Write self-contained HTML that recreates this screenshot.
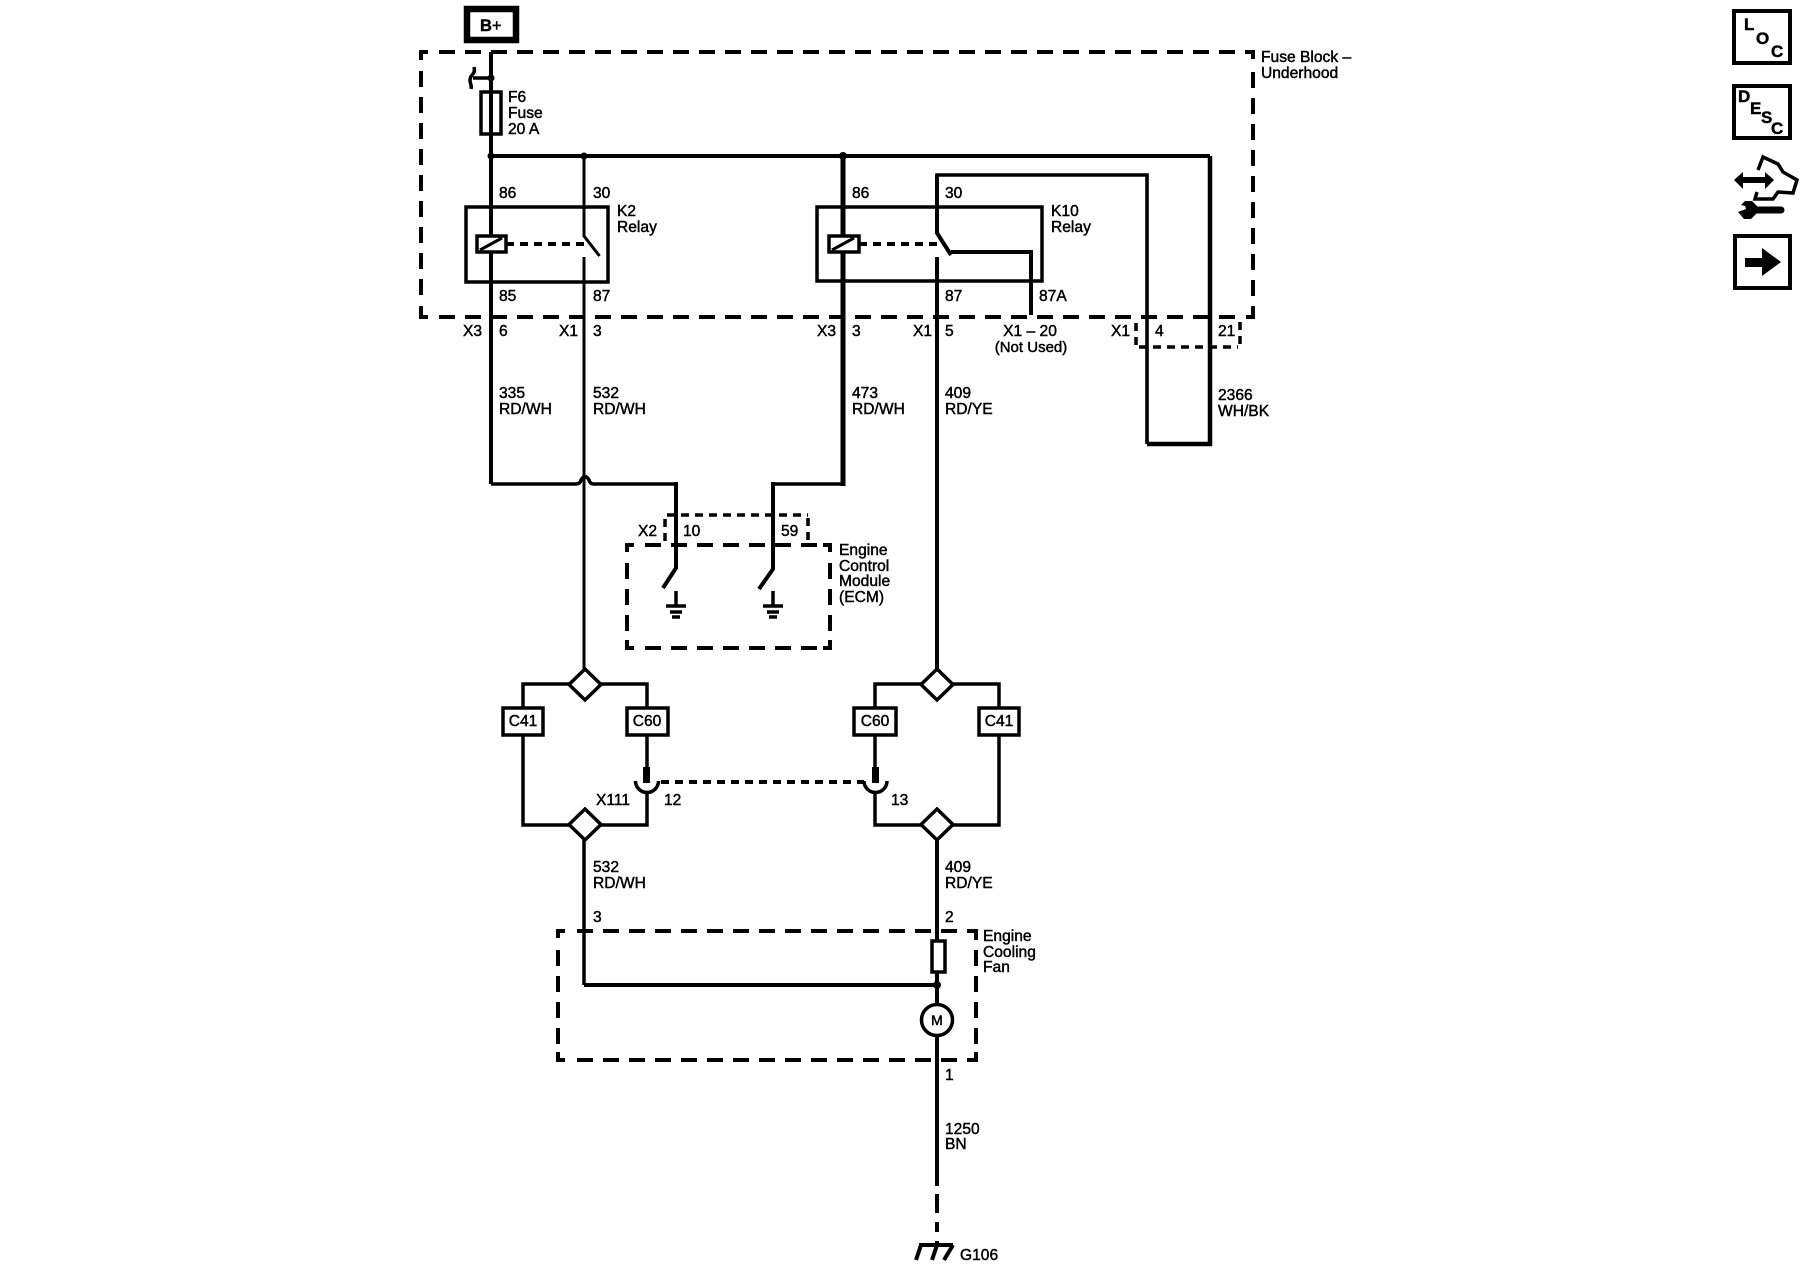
<!DOCTYPE html>
<html>
<head>
<meta charset="utf-8">
<style>
html,body{margin:0;padding:0;background:#fff;width:1800px;height:1280px;overflow:hidden}
svg{display:block}
text{font-family:"Liberation Sans",sans-serif;font-size:15.6px;fill:#000;stroke:#000;stroke-width:.45px}
.w{fill:none;stroke:#000;stroke-width:4;stroke-linejoin:miter}
.t{fill:none;stroke:#000;stroke-width:3}
.m{fill:none;stroke:#000;stroke-width:3.6}
.k{fill:none;stroke:#000;stroke-width:5}
.b{fill:#fff;stroke:#000;stroke-width:3.5}
.n{fill:none;stroke:#000;stroke-width:3.5}
.d{fill:none;stroke:#000;stroke-width:4;stroke-dasharray:16 10}
.s{fill:none;stroke:#000;stroke-width:3.5;stroke-dasharray:8 6}
.i{font-weight:bold;font-size:17px}
</style>
</head>
<body>
<svg width="1800" height="1280" viewBox="0 0 1800 1280" xmlns="http://www.w3.org/2000/svg">
<!-- B+ -->
<rect x="467" y="9" width="49" height="31" fill="#fff" stroke="#000" stroke-width="6.5"/>
<text x="480" y="31" style="font-weight:bold;font-size:16.5px">B<tspan style="font-weight:normal">+</tspan></text>

<!-- Fuse block dashed -->
<path class="w" d="M421 60V52H428"/>
<path class="d" d="M439 52H1237"/>
<path class="w" d="M1245 52H1253V59"/>
<path class="d" d="M421 71V296"/>
<path class="w" d="M421 306V317H428"/>
<path class="d" d="M439 317H1245"/>
<path class="w" d="M1246 317H1253V306"/>
<path class="d" d="M1253 72V300"/>

<!-- X1 4-21 dashed connector -->
<path class="s" d="M1136 323V345"/>
<path class="s" d="M1139 347H1238"/>
<path class="s" d="M1240 322V344"/>
<!-- X2 dashed connector -->
<path class="s" d="M667 515H808"/>
<path class="s" d="M665 519V541"/>
<path class="s" d="M808 518V541"/>

<!-- ECM dashed -->
<path class="w" d="M627 552V545H634"/>
<path class="d" d="M645 545H820"/>
<path class="d" d="M627 563V640"/>
<path class="w" d="M627 640V648H634"/>
<path class="d" d="M645 648H820"/>
<path class="w" d="M823 648H830V640"/>
<path class="w" d="M823 545H830V552"/>
<path class="d" d="M830 563V636"/>

<!-- Fan dashed -->
<path class="w" d="M558 938V931H565"/>
<path class="d" d="M577 931H968"/>
<path class="w" d="M968 931H976V940"/>
<path class="d" d="M558 950V1050"/>
<path class="w" d="M558 1052V1060H565"/>
<path class="d" d="M577 1060H968"/>
<path class="w" d="M968 1060H976V1052"/>
<path class="d" d="M976 950V1045"/>

<!-- Main wires -->
<path class="w" d="M491 52V484"/>
<path class="m" d="M491 484H576Q580 484 581 480Q585 473 589 480Q590 484 594 484H676"/>
<path class="w" d="M676 482V568L663 588"/>
<path class="w" d="M491 156H1210"/>
<path class="m" d="M1147 444V175H937V233"/>
<path class="w" d="M1210 156V444H1147" style="stroke-width:4.5"/>
<path class="w" d="M937 175V233L951 255"/>
<path class="t" d="M584 156V236L599.5 256"/>
<path class="t" d="M584 257V672"/>
<path class="m" d="M843 484H773"/>
<path class="w" d="M773 482V569L759 589"/>
<path class="k" d="M843 156V486"/>
<path class="w" d="M937 257V672"/>
<path class="w" d="M951 252H1031V315"/>

<circle cx="491" cy="78" r="3.5"/>
<circle cx="491" cy="156" r="3.5"/>
<circle cx="584" cy="156" r="3.5"/>
<circle cx="843" cy="156" r="4"/>

<!-- tap connector -->
<path class="n" d="M491 78H473"/>
<path class="n" d="M474 67C476 75 470 74 470 80C470 84 472 85 471 89"/>

<!-- Fuse -->
<path class="n" d="M481 92H501V134H481Z"/>

<!-- K2 Relay -->
<rect class="n" x="466" y="207" width="142" height="75"/>
<rect class="b" x="477" y="236" width="29" height="16"/>
<path class="t" d="M480 250L502 238"/>
<path class="w" d="M491 232V236M491 252V260"/>
<path class="s" d="M506 244H586" style="stroke-width:4"/>
<!-- K10 Relay -->
<rect class="n" x="817" y="207" width="225" height="74"/>
<rect class="b" x="829" y="236" width="30" height="16"/>
<path class="t" d="M832 250L854 238"/>
<path class="w" d="M843 252V256"/>
<path class="s" d="M859 244H938" style="stroke-width:4"/>

<!-- ECM grounds -->
<g class="w" style="stroke-width:3.5">
<path d="M676 591V606M666 606H686M670 612H682M672 617H680"/>
<path d="M773 591V606M763 606H783M767 612H779M769 617H777"/>
</g>

<!-- Left diamonds and branches -->
<path class="n" d="M585 684H523V825H647V792"/>
<path class="n" d="M585 684H647V767"/>
<path class="t" d="M584 840V985" style="stroke-width:3.5"/>
<path class="b" d="M585 669L601 684.5L585 700L569 684.5Z"/>
<path class="b" d="M585 809L601 824.5L585 840L569 824.5Z"/>
<rect class="b" x="503" y="708" width="40" height="27"/>
<rect class="b" x="627" y="708" width="41" height="27"/>
<rect x="643" y="767" width="7" height="16"/>
<path class="n" d="M635.5 781A11 11 0 0 0 658.5 781"/>

<!-- Right diamonds -->
<path class="n" d="M937 684H875V767"/>
<path class="n" d="M937 684H999V825H875V792"/>
<path class="b" d="M937 669L953 684.5L937 700L921 684.5Z"/>
<path class="b" d="M937 809L953 824.5L937 840L921 824.5Z"/>
<rect class="b" x="854" y="708" width="42" height="27"/>
<rect class="b" x="979" y="708" width="40" height="27"/>
<rect x="872" y="767" width="7" height="16"/>
<path class="n" d="M864 781A11.5 11.5 0 0 0 887 781"/>
<path class="s" d="M661 782H864" style="stroke-width:4"/>

<!-- Fan -->
<path class="w" d="M937 840V941"/>
<path class="w" d="M584 985H937"/>
<rect class="n" x="932" y="941" width="13" height="31"/>
<path class="w" d="M937 972V1004"/>
<circle cx="937" cy="985" r="4"/>
<circle cx="937" cy="1020" r="15.5" fill="#fff" stroke="#000" stroke-width="3.5"/>
<path class="w" d="M937 1036V1186"/>
<path class="w" d="M937 1194V1213M937 1222V1232M937 1241V1245"/>
<path class="w" d="M919 1245H953M921 1245L916 1260M937 1245L932 1260M953 1245L944 1260"/>

<!-- Labels -->
<text x="508" y="102">F6</text>
<text x="508" y="118">Fuse</text>
<text x="508" y="134">20 A</text>
<text x="499" y="198">86</text>
<text x="593" y="198">30</text>
<text x="617" y="216">K2</text>
<text x="617" y="232">Relay</text>
<text x="499" y="301">85</text>
<text x="593" y="301">87</text>
<text x="463" y="336">X3</text>
<text x="499" y="336">6</text>
<text x="559" y="336">X1</text>
<text x="593" y="336">3</text>
<text x="817" y="336">X3</text>
<text x="852" y="336">3</text>
<text x="852" y="198">86</text>
<text x="945" y="198">30</text>
<text x="1051" y="216">K10</text>
<text x="1051" y="232">Relay</text>
<text x="945" y="301">87</text>
<text x="1039" y="301">87A</text>
<text x="913" y="336">X1</text>
<text x="945" y="336">5</text>
<text x="1030" y="336" text-anchor="middle">X1 – 20</text>
<text x="1031" y="352" text-anchor="middle" style="font-size:15px">(Not Used)</text>
<text x="1111" y="336">X1</text>
<text x="1155" y="336">4</text>
<text x="1218" y="336">21</text>
<text x="1261" y="62">Fuse Block –</text>
<text x="1261" y="78">Underhood</text>
<text x="499" y="398">335</text><text x="499" y="414">RD/WH</text>
<text x="593" y="398">532</text><text x="593" y="414">RD/WH</text>
<text x="852" y="398">473</text><text x="852" y="414">RD/WH</text>
<text x="945" y="398">409</text><text x="945" y="414">RD/YE</text>
<text x="1218" y="400">2366</text><text x="1218" y="416">WH/BK</text>
<text x="638" y="536">X2</text>
<text x="683" y="536">10</text>
<text x="781" y="536">59</text>
<text x="839" y="555">Engine</text>
<text x="839" y="571">Control</text>
<text x="839" y="586">Module</text>
<text x="839" y="602">(ECM)</text>
<text x="523" y="726" text-anchor="middle">C41</text>
<text x="647" y="726" text-anchor="middle">C60</text>
<text x="875" y="726" text-anchor="middle">C60</text>
<text x="999" y="726" text-anchor="middle">C41</text>
<text x="596" y="805">X111</text>
<text x="664" y="805">12</text>
<text x="891" y="805">13</text>
<text x="593" y="872">532</text><text x="593" y="888">RD/WH</text>
<text x="945" y="872">409</text><text x="945" y="888">RD/YE</text>
<text x="593" y="922">3</text>
<text x="945" y="922">2</text>
<text x="983" y="941">Engine</text>
<text x="983" y="957">Cooling</text>
<text x="983" y="972">Fan</text>
<text x="937" y="1025" text-anchor="middle" style="font-size:14px">M</text>
<text x="945" y="1080">1</text>
<text x="945" y="1134">1250</text>
<text x="945" y="1149">BN</text>
<text x="960" y="1260">G106</text>

<!-- Right icons -->
<rect x="1734" y="11" width="56" height="52" class="w" style="stroke-width:4"/>
<text class="i" x="1744" y="30">L</text>
<text class="i" x="1756" y="44">O</text>
<text class="i" x="1771" y="57">C</text>
<rect x="1734" y="86" width="56" height="52" class="w" style="stroke-width:4"/>
<text class="i" x="1738" y="102">D</text>
<text class="i" x="1750" y="114">E</text>
<text class="i" x="1761" y="123">S</text>
<text class="i" x="1771" y="134">C</text>
<path d="M1734 180L1743 172V177H1765V172L1774 180L1765 189V183H1743V189Z"/>
<path class="n" d="M1758 170L1763 157L1778 164L1783 172L1797 180L1793 193L1778 192L1773 199L1755 199L1757 192"/>
<path class="k" d="M1752 210H1781" style="stroke-width:7;stroke-linecap:round"/>
<path d="M1741 205L1745 201L1752 201L1757 206V213L1751 219H1744L1738 212L1746 209L1745 206Z"/>
<rect x="1735" y="236" width="55" height="52" class="w" style="stroke-width:4"/>
<path d="M1745 258H1762V248L1781 262L1762 276V267H1745Z"/>
</svg>
</body>
</html>
